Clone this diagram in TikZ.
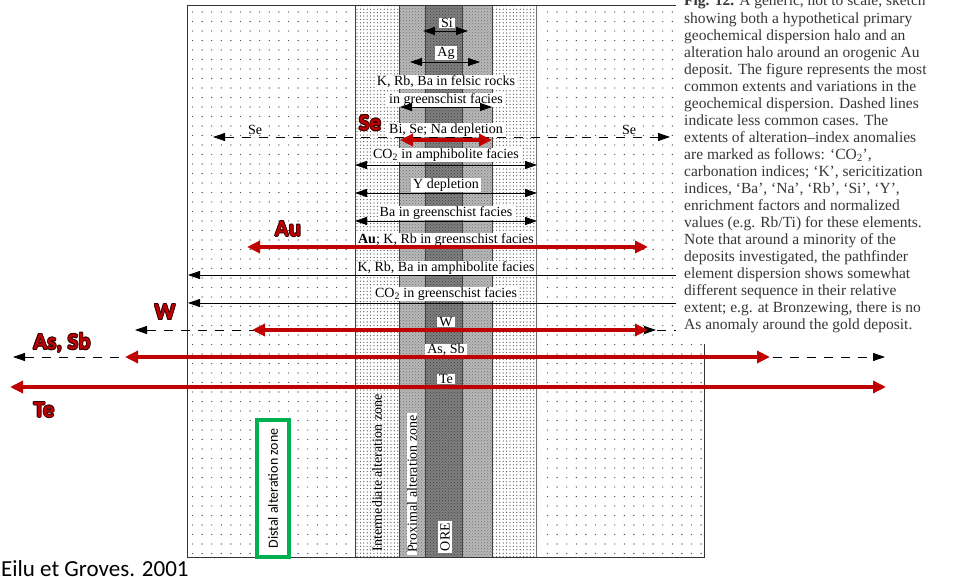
\documentclass[tikz,border=0pt]{standalone}
\usepackage{fontspec}
\setmainfont{Liberation Serif}
\newfontfamily\carlito{Carlito}
\usetikzlibrary{arrows.meta,patterns}
\pgfdeclarepatternformonly{densedots}{\pgfqpoint{-1pt}{-1pt}}{\pgfqpoint{2.4pt}{2.4pt}}{\pgfqpoint{3.4pt}{3.4pt}}{\pgfpathcircle{\pgfqpoint{0pt}{0pt}}{0.62pt}\pgfusepath{fill}}
\definecolor{redc}{RGB}{192,0,0}
\definecolor{olc}{RGB}{55,0,0}
\definecolor{greenc}{RGB}{0,176,80}
\definecolor{capc}{RGB}{55,55,55}
\newcommand\olt[1]{%
\makebox[0pt][l]{\kern-0.8pt\textcolor{olc}{#1}}%
\makebox[0pt][l]{\kern0.8pt\textcolor{olc}{#1}}%
\makebox[0pt][l]{\raisebox{0.8pt}{\textcolor{olc}{#1}}}%
\makebox[0pt][l]{\raisebox{-0.8pt}{\textcolor{olc}{#1}}}%
\makebox[0pt][l]{\kern-0.6pt\raisebox{0.6pt}{\textcolor{olc}{#1}}}%
\makebox[0pt][l]{\kern0.6pt\raisebox{0.6pt}{\textcolor{olc}{#1}}}%
\makebox[0pt][l]{\kern-0.6pt\raisebox{-0.6pt}{\textcolor{olc}{#1}}}%
\makebox[0pt][l]{\kern0.6pt\raisebox{-0.6pt}{\textcolor{olc}{#1}}}%
\textcolor{redc}{#1}}
\begin{document}
\begin{tikzpicture}[x=1pt,y=-1pt,
  lab/.style={fill=white, inner xsep=2pt, inner ysep=0.5pt, font=\fontsize{14}{14}\selectfont},
  blk/.style={draw=black, line width=0.8pt, arrows={Triangle[length=12pt,width=8pt]-Triangle[length=12pt,width=8pt]}},
  blkl/.style={draw=black, line width=0.8pt, arrows={Triangle[length=12pt,width=8pt]-}},
  blkr/.style={draw=black, line width=0.8pt, arrows={-Triangle[length=12pt,width=8pt]}},
  dsh/.style={dash pattern=on 9pt off 8pt},
  redarr/.style={draw=redc, line width=4pt, arrows={Triangle[length=13pt,width=12pt]-Triangle[length=13pt,width=12pt]}},
  big/.style={font=\carlito\bfseries\fontsize{23}{23}\selectfont, inner sep=0pt},
  capt/.style={anchor=base west, inner sep=0pt, text=capc, font=\fontsize{15.5}{15.5}\selectfont},
  zline/.style={draw=black!75, line width=0.6pt},
  odot/.style={fill=black!70}
]
\useasboundingbox (0,0) rectangle (956,577);
\fill[white] (0,0) rectangle (956,577);
% outer dotted regions
\foreach \i in {0,...,16} \foreach \j in {0,...,57} {
  \fill[odot] (192.5+9.6*\i, 12+9.5*\j) circle (0.7pt);
  \fill[odot] (547.5+9.6*\i, 12+9.5*\j) circle (0.7pt);
}
% zones
\fill[white] (355,5) rectangle (537,557);
\fill[pattern=densedots, pattern color=black!70] (355,5) rectangle (537,557);
\fill[black!28] (399,5) rectangle (492,557);
\fill[pattern=crosshatch dots, pattern color=black!55] (399,5) rectangle (492,557);
\fill[black!50] (425,5) rectangle (462,557);
\fill[pattern=crosshatch dots, pattern color=black!75] (425,5) rectangle (462,557);
\draw[zline] (355,5) -- (355,557);
\draw[zline] (399,5) -- (399,557);
\draw[zline] (425,5) -- (425,557);
\draw[zline] (462,5) -- (462,557);
\draw[zline] (492,5) -- (492,557);
\draw[draw=black!55, line width=1.6pt] (536.5,5) -- (536.5,557);
\draw[draw=black!80, line width=0.8pt] (187,557) -- (187,5) -- (704,5) -- (704,557) -- cycle;
% dashed Se
\coordinate (seA) at (213,137); \coordinate (seB) at (670,137);
\draw[blk, dsh] (seA) -- (seB);
% labels
\node[lab] (si) at (447,23) {Si};
\node[lab] (ag) at (446,53) {Ag};
\node[lab] (krb1) at (446,82) {K, Rb, Ba in felsic rocks};
\node[lab] (krb2) at (446,100) {in greenschist facies};
\node[lab] (bise) at (446,130) {Bi, Se; Na depletion};
\node[lab] (co2a) at (446,155) {CO\textsubscript{2} in amphibolite facies};
\node[lab] (ydep) at (446,185) {Y depletion};
\node[lab] (bagr) at (446,213) {Ba in greenschist facies};
\node[lab] (aukrb) at (446,240) {\textbf{Au}; K, Rb in greenschist facies};
\node[lab] (krba) at (446,268) {K, Rb, Ba in amphibolite facies};
\node[lab] (co2g) at (446,294) {CO\textsubscript{2} in greenschist facies};
\node[lab] (wl) at (446,322) {W};
\node[lab] (assbl) at (446,350) {As, Sb};
\node[lab] (tel) at (446,379) {Te};
\node[lab] (seL) at (255,130) {Se};
\node[lab] (seR) at (629,130) {Se};
% black arrows
\coordinate (siA) at (423,31); \coordinate (siB) at (468,31);
\coordinate (agA) at (410,62); \coordinate (agB) at (480,62);
\coordinate (feA) at (400,107); \coordinate (feB) at (492,107);
\coordinate (caA) at (355,165); \coordinate (caB) at (537,165);
\coordinate (yA) at (355,193); \coordinate (yB) at (537,193);
\coordinate (baA) at (355,221); \coordinate (baB) at (537,221);
\coordinate (kaA) at (188,275); \coordinate (kaB) at (676,275);
\coordinate (cgA) at (188,303); \coordinate (cgB) at (676,303);
\coordinate (wdA) at (135,330); \coordinate (wdB) at (676,330);
\coordinate (wsA) at (252,330); \coordinate (wsB) at (656,330);
\coordinate (adA) at (13,357); \coordinate (adB) at (885,357);
\draw[blk] (siA) -- (siB);
\draw[blk] (agA) -- (agB);
\draw[blk] (feA) -- (feB);
\draw[blk] (caA) -- (caB);
\draw[blk] (yA) -- (yB);
\draw[blk] (baA) -- (baB);
\draw[blkl] (kaA) -- (kaB);
\draw[blkl] (cgA) -- (cgB);
\draw[blkl, dsh] (wdA) -- (wdB);
\draw[blkr] (wsA) -- (wsB);
\draw[blk, dsh] (adA) -- (adB);
% red arrows
\coordinate (rbA) at (400,140); \coordinate (rbB) at (492,140);
\coordinate (rauA) at (247,247); \coordinate (rauB) at (648,247);
\coordinate (rwA) at (252,330); \coordinate (rwB) at (648,330);
\coordinate (rasA) at (125,357); \coordinate (rasB) at (770,357);
\coordinate (rteA) at (10,387); \coordinate (rteB) at (886,387);
\draw[redarr] (rbA) -- (rbB);
\draw[redarr] (rauA) -- (rauB);
\draw[redarr] (rwA) -- (rwB);
\draw[redarr] (rasA) -- (rasB);
\draw[redarr] (rteA) -- (rteB);
% zone labels
\node[rotate=90, inner sep=0pt, font=\fontsize{14}{14}\selectfont] (inter) at (377,473) {Intermediate alteration zone};
\node[lab, rotate=90] (prox) at (412,484) {Proximal alteration zone};
\node[lab, rotate=90, inner ysep=2pt] (ore) at (445,537) {ORE};
\node[draw=greenc, line width=4pt, fill=white, rotate=90, inner sep=0pt,
  font=\carlito\fontsize{14}{14}\selectfont, minimum width=137pt, minimum height=32pt] (distal) at (273,488.5) {Distal alteration zone};
% caption
\fill[white] (676,-1) rectangle (957,344);
\node[capt] (c1) at (684,6) {\textbf{Fig. 12.} A generic, not to scale, sketch};
\node[capt] (c2) at (684,23.05) {showing both a hypothetical primary};
\node[capt] (c3) at (684,40.1) {geochemical dispersion halo and an};
\node[capt] (c4) at (684,57.15) {alteration halo around an orogenic Au};
\node[capt] (c5) at (684,74.2) {deposit. The figure represents the most};
\node[capt] (c6) at (684,91.25) {common extents and variations in the};
\node[capt] (c7) at (684,108.3) {geochemical dispersion. Dashed lines};
\node[capt] (c8) at (684,125.35) {indicate less common cases. The};
\node[capt] (c9) at (684,142.4) {extents of alteration–index anomalies};
\node[capt] (c10) at (684,159.45) {are marked as follows: ‘CO\textsubscript{2}’,};
\node[capt] (c11) at (684,176.5) {carbonation indices; ‘K’, sericitization};
\node[capt] (c12) at (684,193.55) {indices, ‘Ba’, ‘Na’, ‘Rb’, ‘Si’, ‘Y’,};
\node[capt] (c13) at (684,210.6) {enrichment factors and normalized};
\node[capt] (c14) at (684,227.65) {values (e.g. Rb/Ti) for these elements.};
\node[capt] (c15) at (684,244.7) {Note that around a minority of the};
\node[capt] (c16) at (684,261.75) {deposits investigated, the pathfinder};
\node[capt] (c17) at (684,278.8) {element dispersion shows somewhat};
\node[capt] (c18) at (684,295.85) {different sequence in their relative};
\node[capt] (c19) at (684,312.9) {extent; e.g. at Bronzewing, there is no};
\node[capt] (c20) at (684,329.95) {As anomaly around the gold deposit.};
% big red labels
\node[big] (bSe) at (370,123) {\olt{Se}};
\node[big] (bAu) at (288,229) {\olt{Au}};
\node[big] (bW) at (165,312) {\olt{W}};
\node[big] (bAs) at (62,343) {\olt{As, Sb}};
\node[big] (bTe) at (44,410) {\olt{Te}};
% source
\node[anchor=base west, inner sep=0pt, font=\carlito\fontsize{23}{23}\selectfont] (src) at (1,576) {Eilu et Groves. 2001};
\end{tikzpicture}
\end{document}
